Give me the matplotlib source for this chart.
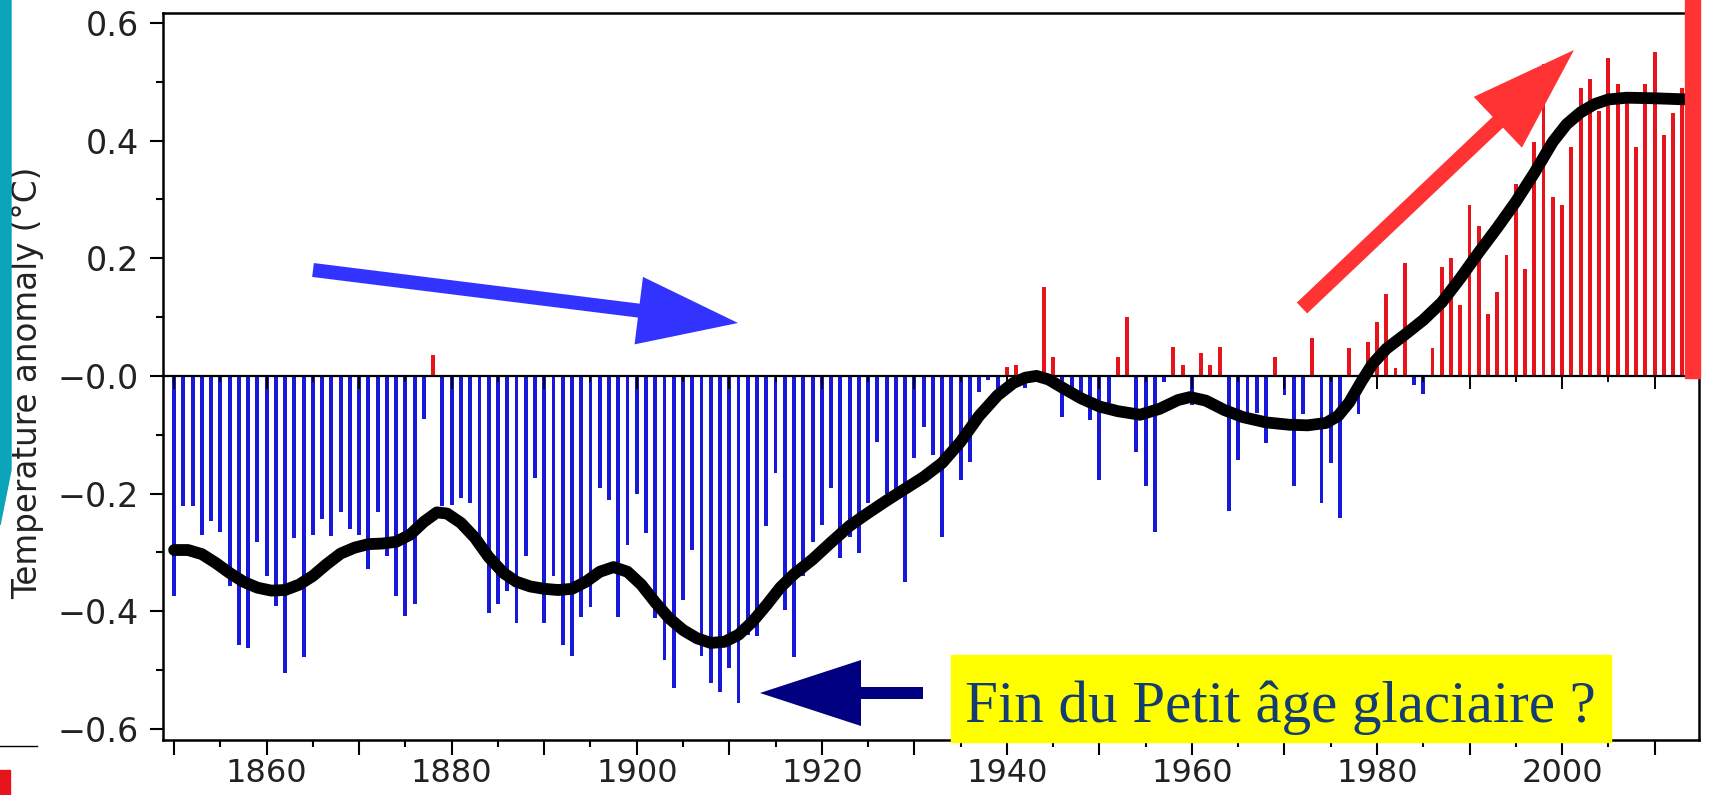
import matplotlib
matplotlib.use("Agg")
import matplotlib.pyplot as plt
from matplotlib.patches import FancyArrow, Rectangle, Polygon

# annual global temperature anomaly (°C)
years = list(range(1850, 2015))
anomaly = [
    -0.375, -0.222, -0.222, -0.270, -0.246, -0.265, -0.358, -0.457, -0.463, -0.282,  # 1850s
    -0.340, -0.392, -0.505, -0.276, -0.478, -0.270, -0.244, -0.273, -0.231, -0.261,  # 1860s
    -0.270, -0.329, -0.231, -0.307, -0.375, -0.409, -0.387, -0.074, 0.036, -0.222,   # 1870s
    -0.220, -0.208, -0.216, -0.300, -0.403, -0.388, -0.365, -0.420, -0.307, -0.174,  # 1880s
    -0.420, -0.341, -0.457, -0.477, -0.410, -0.393, -0.191, -0.211, -0.410, -0.287,  # 1890s
    -0.200, -0.267, -0.412, -0.483, -0.531, -0.381, -0.296, -0.477, -0.522, -0.537,  # 1900s
    -0.497, -0.556, -0.440, -0.443, -0.256, -0.165, -0.398, -0.478, -0.340, -0.282,  # 1910s
    -0.253, -0.190, -0.310, -0.274, -0.301, -0.216, -0.112, -0.200, -0.194, -0.350,  # 1920s
    -0.140, -0.087, -0.134, -0.274, -0.120, -0.177, -0.146, -0.027, -0.007, -0.030,  # 1930s
    0.015, 0.018, -0.020, -0.010, 0.152, 0.032, -0.070, -0.030, -0.045, -0.075,      # 1940s
    -0.177, -0.046, 0.033, 0.100, -0.129, -0.188, -0.265, -0.010, 0.050, 0.018,      # 1950s
    -0.050, 0.039, 0.018, 0.050, -0.230, -0.143, -0.063, -0.063, -0.114, 0.033,      # 1960s
    -0.032, -0.188, -0.065, 0.064, -0.216, -0.148, -0.242, 0.047, -0.064, 0.058,     # 1970s
    0.092, 0.140, 0.013, 0.192, -0.015, -0.030, 0.048, 0.186, 0.200, 0.120,          # 1980s
    0.290, 0.255, 0.105, 0.143, 0.205, 0.326, 0.182, 0.397, 0.530, 0.305,            # 1990s
    0.290, 0.390, 0.490, 0.505, 0.450, 0.540, 0.497, 0.473, 0.390, 0.497,            # 2000s
    0.550, 0.410, 0.447, 0.490, 0.560,                                               # 2010s
]

# smoothed curve
smooth_years = [1850, 1851.5, 1853, 1854.5, 1856, 1857.5, 1859, 1860.5, 1862, 1863.5,
                1865, 1866.5, 1868, 1869.5, 1871, 1872.5, 1874, 1875.5, 1877, 1878.4,
                1879.5, 1881, 1882.5, 1884, 1885.6, 1887, 1888.5, 1890, 1891.5, 1893,
                1894.5, 1896, 1897.5, 1899, 1900.5, 1902, 1903.5, 1905, 1906.5, 1908,
                1909.5, 1911, 1912.5, 1914, 1915.5, 1917, 1919, 1921, 1923, 1925,
                1927, 1929, 1931, 1933, 1935, 1937, 1939, 1940.7, 1942, 1943.2,
                1944.5, 1946, 1948, 1950, 1952, 1954.4, 1956.5, 1958.5, 1959.8, 1961.5,
                1963.5, 1965.5, 1968, 1970.5, 1972.5, 1974.5, 1975.8, 1977, 1978.3, 1979.5,
                1981, 1983, 1985, 1987, 1989, 1991, 1993, 1995, 1997, 1999,
                2000.5, 2002, 2003.5, 2005, 2007, 2010, 2013.6]
smooth_values = [-0.296, -0.296, -0.303, -0.318, -0.335, -0.350, -0.360, -0.365, -0.364, -0.355,
                 -0.340, -0.320, -0.302, -0.292, -0.286, -0.285, -0.282, -0.270, -0.248, -0.232,
                 -0.234, -0.250, -0.275, -0.308, -0.335, -0.350, -0.358, -0.362, -0.364, -0.362,
                 -0.350, -0.333, -0.325, -0.333, -0.355, -0.385, -0.412, -0.432, -0.446, -0.454,
                 -0.452, -0.440, -0.418, -0.390, -0.360, -0.337, -0.312, -0.283, -0.255, -0.233,
                 -0.212, -0.192, -0.172, -0.148, -0.112, -0.068, -0.033, -0.012, -0.003, 0.000,
                 -0.006, -0.020, -0.038, -0.052, -0.060, -0.066, -0.056, -0.041, -0.036, -0.042,
                 -0.058, -0.070, -0.079, -0.083, -0.084, -0.080, -0.068, -0.045, -0.010, 0.020,
                 0.046, 0.070, 0.095, 0.125, 0.166, 0.210, 0.252, 0.296, 0.345, 0.398,
                 0.428, 0.448, 0.462, 0.470, 0.473, 0.472, 0.470]

ytick_values = [-0.6, -0.4, -0.2, 0.0, 0.2, 0.4, 0.6]
ytick_labels = ["\u22120.6", "\u22120.4", "\u22120.2", "\u22120.0", "0.2", "0.4", "0.6"]
xtick_years = list(range(1850, 2011, 10))
xtick_labels = [str(y) if y % 20 == 0 else "" for y in xtick_years]
ylabel = "Temperature anomaly (\u00b0C)"
note_text = "Fin du Petit \u00e2ge glaciaire ?"

W, H = 1709, 795
fig = plt.figure(figsize=(W / 100, H / 100), dpi=100)
ax = fig.add_axes([163 / W, 1 - 740 / H, (1699 - 163) / W, (740 - 13) / H])

bar_colors = ["#e8141c" if v > 0 else "#1818da" for v in anomaly]
ax.bar(years, anomaly, width=0.42, color=bar_colors, zorder=2)

# zero line with its own little ticks
ax.axhline(0, color="black", lw=1.6, zorder=3)
zero_ticks = list(range(1850, 2015, 5))
ax.vlines(zero_ticks, 0, [-0.022 if y % 10 == 0 else -0.011 for y in zero_ticks],
          color="black", lw=1.4, zorder=3)

ax.plot(smooth_years, smooth_values, color="black", lw=8.5,
        solid_capstyle="round", solid_joinstyle="round", zorder=4)

ax.set_xlim(1848.8, 2014.8)
ax.set_ylim(-0.619, 0.617)
ax.set_xticks(xtick_years)
ax.set_xticklabels(xtick_labels)
ax.set_xticks(list(range(1855, 2015, 10)), minor=True)
ax.set_yticks(ytick_values)
ax.set_yticklabels(ytick_labels)
ax.set_yticks([-0.5, -0.3, -0.1, 0.1, 0.3, 0.5], minor=True)

ax.tick_params(axis="x", which="major", direction="out", length=11, width=1.5,
               labelsize=23, pad=2, labelcolor="#222222")
ax.tick_params(axis="x", which="minor", direction="out", length=5, width=1.5)
ax.tick_params(axis="y", which="major", direction="out", length=9.5, width=1.5,
               labelsize=24, pad=8, labelcolor="#222222")
ax.tick_params(axis="y", which="minor", direction="out", length=5, width=1.5)
for s in ax.spines.values():
    s.set_linewidth(1.8)

ax.set_ylabel(ylabel, fontsize=23.5, color="#222222", va="center")
ax.yaxis.set_label_coords((28 - 163) / 1536, (740 - 383) / 727)

# overlay in pixel units for the slide decorations
ov = fig.add_axes([0, 0, 1, 1], zorder=10)
ov.set_xlim(0, W)
ov.set_ylim(H, 0)
ov.axis("off")

ov.add_patch(Polygon([(0, 0), (11, 0), (11, 470), (0, 525)], closed=True, color="#0aa5b8"))
ov.plot([0, 37], [746, 746], color="black", lw=1)
ov.add_patch(Rectangle((0, 770), 10, 25, color="#e8141c"))
ov.add_patch(Rectangle((1685, 0), 15, 378, color="#ff3333"))

ov.add_patch(FancyArrow(313, 270, 425, 53, width=14, head_width=68, head_length=100,
                        length_includes_head=True, color="#3333ff", lw=0))
ov.add_patch(FancyArrow(1302, 308, 272, -258, width=15, head_width=70, head_length=105,
                        length_includes_head=True, color="#ff3333", lw=0))
ov.add_patch(FancyArrow(923, 693, -163, 0, width=12, head_width=66, head_length=101,
                        length_includes_head=True, color="#000080", lw=0))

ov.add_patch(Rectangle((951, 655), 660, 87, color="#ffff00"))
ov.text(1280, 722, note_text, ha="center", va="baseline", fontsize=42.5,
        family="Liberation Serif", color="#123c72")

fig.savefig("out.png", dpi=100)
